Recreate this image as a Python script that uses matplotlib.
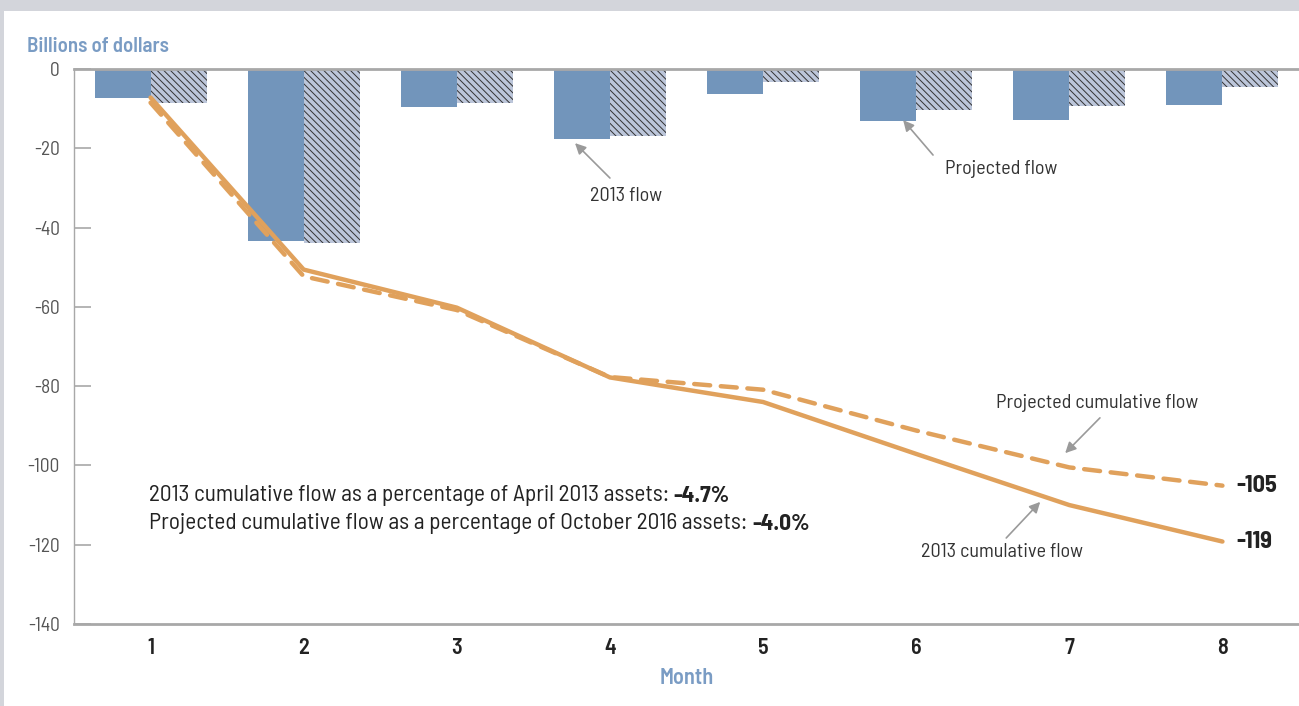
import matplotlib
matplotlib.use('Agg')
import matplotlib.pyplot as plt
import matplotlib.patches as mpatches
import numpy as np

plt.rcParams['font.family'] = ['Barlow Semi Condensed', 'DejaVu Sans']
plt.rcParams['hatch.linewidth'] = 0.7
plt.rcParams['hatch.color'] = '#333333'

# data (billions of dollars)
months = [1, 2, 3, 4, 5, 6, 7, 8]
flow_2013 = [-7.2, -43.4, -9.6, -17.6, -6.2, -13.1, -12.9, -9.2]
flow_projected = [-8.5, -43.8, -8.5, -16.9, -3.2, -10.3, -9.3, -4.6]
yticks = [0, -20, -40, -60, -80, -100, -120, -140]
ytick_labels = ['0', '-20', '-40', '-60', '-80', '-100', '-120', '-140']

cum_2013 = np.cumsum(flow_2013)
cum_projected = np.cumsum(flow_projected)

BLUE = '#7295bb'
HATCH_BG = '#bcc6da'
ORANGE = '#e0a15c'
LABEL_BLUE = '#7a9cc4'
GRAY = '#a8a8a8'

fig = plt.figure(figsize=(12.99, 7.06), dpi=100)
fig.patch.set_facecolor('#d3d5db')
# white panel
fig.patches.append(mpatches.Rectangle((3.5 / 1299, 0), 1, 1 - 11 / 706,
                                      transform=fig.transFigure, facecolor='white',
                                      edgecolor='none', zorder=-5))

ax = fig.add_axes([74 / 1299, 1 - 624 / 706, 1 - 74 / 1299, (624 - 69) / 706])
ax.set_facecolor('none')

x = np.array(months)
w = 0.366
ax.bar(x - w / 2, flow_2013, width=w, color=BLUE, zorder=2)
ax.bar(x + w / 2, flow_projected, width=w, color=HATCH_BG, hatch='\\\\\\\\\\',
       edgecolor='#333333', linewidth=0, zorder=2)

ax.plot(x, cum_2013, color=ORANGE, lw=3.2, solid_capstyle='round', zorder=3)
ax.plot(x, cum_projected, color=ORANGE, lw=3.2, dashes=(3.6, 2.4),
        dash_capstyle='round', zorder=3)

ax.set_xlim(0.5, 8.5)
ax.set_ylim(-140, 0)
ax.set_yticks(yticks)
ax.set_yticklabels(ytick_labels)
ax.set_xticks(months)
ax.set_xticklabels([str(m) for m in months])

ax.tick_params(axis='y', direction='in', length=12, width=1.2, color=GRAY,
               labelsize=14, labelcolor='#555555', pad=10)
ax.tick_params(axis='x', length=0, labelsize=16, labelcolor='#222222', pad=10)
for lab in ax.get_xticklabels():
    lab.set_fontweight(600)

ax.spines['right'].set_visible(False)
ax.spines['left'].set_color(GRAY)
ax.spines['left'].set_linewidth(1.0)
ax.spines['top'].set_color(GRAY)
ax.spines['top'].set_linewidth(2.0)
ax.spines['bottom'].set_color(GRAY)
ax.spines['bottom'].set_linewidth(2.0)

fig.text(27 / 1299, 1 - 46 / 706, 'Billions of dollars', color=LABEL_BLUE,
         fontsize=15, fontweight=600, va='center', ha='left')
ax.set_xlabel('Month', color=LABEL_BLUE, fontsize=16, fontweight=600, labelpad=7)

# annotations
arrow = dict(arrowstyle='-|>', color='#9a9a9a', lw=1.2, mutation_scale=16,
             shrinkA=0, shrinkB=0)
ax.text(4.106, -32.0, '2013 flow', fontsize=14.5, color='#333333', ha='center', va='center')
ax.annotate('', xy=(3.772, -18.7), xytext=(4.0, -27.5), arrowprops=arrow)
ax.text(6.555, -25.2, 'Projected flow', fontsize=14.5, color='#333333', ha='center', va='center')
ax.annotate('', xy=(5.915, -12.9), xytext=(6.11, -21.7), arrowprops=arrow)
ax.text(7.182, -84.3, 'Projected cumulative flow', fontsize=14.5, color='#333333',
        ha='center', va='center')
ax.annotate('', xy=(6.973, -96.9), xytext=(7.20, -88.0), arrowprops=arrow)
ax.text(6.561, -121.8, '2013 cumulative flow', fontsize=14.5, color='#333333',
        ha='center', va='center')
ax.annotate('', xy=(6.81, -109.2), xytext=(6.588, -118.3), arrowprops=arrow)

ax.text(8.09, cum_projected[-1], '%d' % round(cum_projected[-1]), fontsize=17.5,
        fontweight='bold', color='#222222', ha='left', va='center')
ax.text(8.09, cum_2013[-1], '%d' % round(cum_2013[-1]), fontsize=17.5,
        fontweight='bold', color='#222222', ha='left', va='center')

t1 = ax.text(0.99, -107.6, '2013 cumulative flow as a percentage of April 2013 assets: ',
             fontsize=16.8, color='#222222', ha='left', va='center')
ax.annotate('-4.7%', xy=(1, 0), xycoords=t1, fontsize=16.8, fontweight='bold',
            color='#222222', ha='left', va='bottom')
t2 = ax.text(0.99, -114.6, 'Projected cumulative flow as a percentage of October 2016 assets: ',
             fontsize=16.8, color='#222222', ha='left', va='center')
ax.annotate('-4.0%', xy=(1, 0), xycoords=t2, fontsize=16.8, fontweight='bold',
            color='#222222', ha='left', va='bottom')

fig.savefig('out.png', dpi=100, facecolor=fig.get_facecolor())
